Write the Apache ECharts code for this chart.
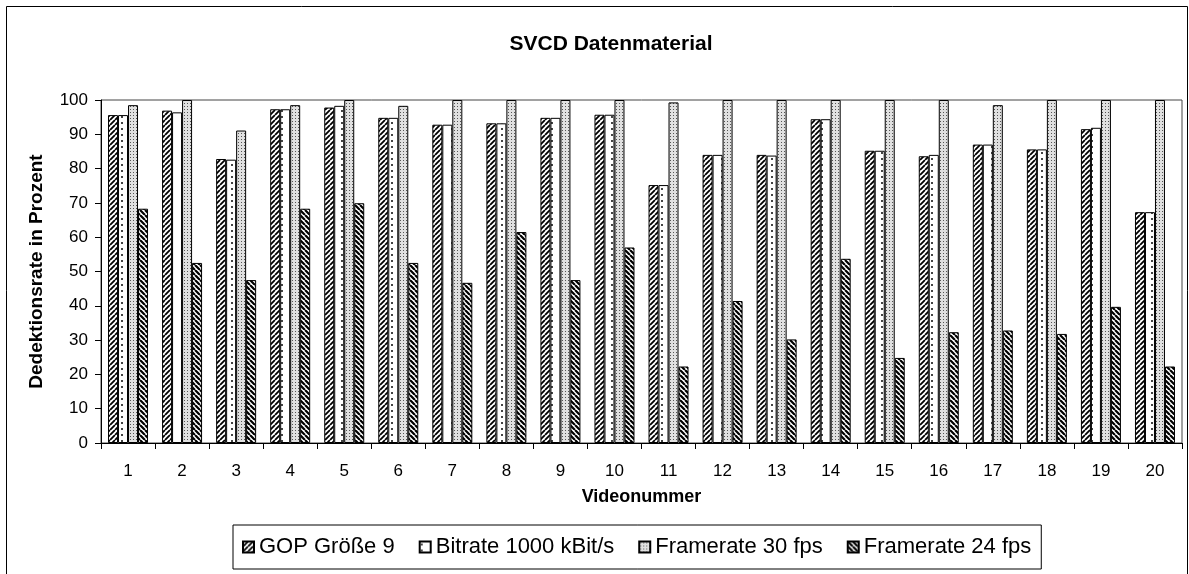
<!DOCTYPE html>
<html>
<head>
<meta charset="utf-8">
<script src="https://cdn.jsdelivr.net/npm/echarts@6/dist/echarts.min.js"></script>
<style>
  html, body { margin: 0; padding: 0; background: #fff; }
  #chart { width: 1189px; height: 574px; }
</style>
</head>
<body>
<div id="chart"></div>
<script>
// Daten
var videos = ['1','2','3','4','5','6','7','8','9','10','11','12','13','14','15','16','17','18','19','20'];
var seriesNames = ['GOP Größe 9', 'Bitrate 1000 kBit/s', 'Framerate 30 fps', 'Framerate 24 fps'];
var gop9 = [95.6, 96.9, 82.8, 97.3, 97.8, 94.8, 92.8, 93.2, 94.8, 95.7, 75.2, 84.0, 84.0, 94.4, 85.2, 83.6, 87.0, 85.6, 91.5, 67.3];
var bitrate1000 = [95.6, 96.4, 82.6, 97.3, 98.3, 94.8, 92.8, 93.2, 94.8, 95.7, 75.2, 84.0, 83.8, 94.4, 85.2, 84.0, 87.0, 85.6, 91.9, 67.3];
var fps30 = [98.5, 100, 91.1, 98.5, 100, 98.3, 100, 100, 100, 100, 99.3, 100, 100, 100, 100, 100, 98.5, 100, 100, 100];
var fps24 = [68.3, 52.5, 47.5, 68.3, 69.9, 52.5, 46.7, 61.5, 47.5, 57.0, 22.3, 41.4, 30.2, 53.7, 24.8, 32.3, 32.8, 31.8, 39.7, 22.3];
var yTicks = [0, 10, 20, 30, 40, 50, 60, 70, 80, 90, 100];

var FONT = 'Arial, "Liberation Sans", sans-serif';

// Schraffuren als Canvas-Muster
function hatch(dir, lw) {
    var c = document.createElement('canvas');
    c.width = 5; c.height = 5;
    var g = c.getContext('2d');
    g.fillStyle = '#fff'; g.fillRect(0, 0, 5, 5);
    g.strokeStyle = '#000'; g.lineWidth = lw;
    g.beginPath();
    for (var k = -1; k <= 1; k++) {
        if (dir > 0) { g.moveTo(k * 5, 5); g.lineTo(k * 5 + 5, 0); }
        else { g.moveTo(k * 5, 0); g.lineTo(k * 5 + 5, 5); }
    }
    g.stroke();
    return { image: c, repeat: 'repeat' };
}
function sparseDots() {
    var c = document.createElement('canvas');
    c.width = 10; c.height = 6;
    var g = c.getContext('2d');
    g.fillStyle = '#fff'; g.fillRect(0, 0, 10, 6);
    g.fillStyle = '#444'; g.fillRect(1, 2, 2, 2);
    return { image: c, repeat: 'repeat' };
}
function denseDots() {
    var c = document.createElement('canvas');
    c.width = 3; c.height = 3;
    var g = c.getContext('2d');
    g.fillStyle = '#e0e0e0'; g.fillRect(0, 0, 3, 3);
    g.fillStyle = '#555'; g.fillRect(1, 1, 1, 1);
    return { image: c, repeat: 'repeat' };
}

var fills = [hatch(1, 1.8), sparseDots(), denseDots(), hatch(-1, 2.2)];
var values = [gop9, bitrate1000, fps30, fps24];

var series = [];
for (var i = 0; i < seriesNames.length; i++) {
    series.push({
        name: seriesNames[i],
        type: 'bar',
        barWidth: 10,
        barGap: '0%',
        itemStyle: { color: fills[i], borderColor: '#000', borderWidth: 1 },
        data: values[i]
    });
}

var chart = echarts.init(document.getElementById('chart'));
chart.setOption({
    animation: false,
    backgroundColor: '#fff',
    title: {
        text: 'SVCD Datenmaterial',
        left: 606, top: 29, textAlign: 'center',
        textStyle: { fontFamily: FONT, fontSize: 21, fontWeight: 'bold', color: '#000' }
    },
    graphic: [{
        type: 'rect', silent: true,
        shape: { x: 6.5, y: 6.5, width: 1181, height: 600 },
        style: { fill: 'none', stroke: '#000', lineWidth: 1 }
    }],
    legend: {
        data: seriesNames,
        left: 233, top: 525,
        padding: [11, 10, 11, 9],
        itemGap: 24,
        icon: 'rect',
        itemWidth: 11, itemHeight: 11,
        borderColor: '#000', borderWidth: 1,
        textStyle: { fontFamily: FONT, fontSize: 22, color: '#000' }
    },
    grid: {
        left: 101, right: 7, top: 100, bottom: 131,
        show: true, borderColor: '#444', borderWidth: 1
    },
    xAxis: {
        type: 'category',
        data: videos,
        name: 'Videonummer',
        nameLocation: 'middle',
        nameGap: 45,
        nameTextStyle: { fontFamily: FONT, fontSize: 18, fontWeight: 'bold', color: '#000' },
        axisLine: { lineStyle: { color: '#000', width: 1 } },
        axisTick: { show: true, length: 6, lineStyle: { color: '#000' } },
        axisLabel: { fontFamily: FONT, fontSize: 17, color: '#000', margin: 20 },
        splitLine: { show: false }
    },
    yAxis: {
        type: 'value',
        min: yTicks[0], max: yTicks[yTicks.length - 1], interval: 10,
        name: 'Dedektionsrate in Prozent',
        nameLocation: 'middle',
        nameGap: 55,
        nameTextStyle: { fontFamily: FONT, fontSize: 19, fontWeight: 'bold', color: '#000' },
        axisLine: { show: true, lineStyle: { color: '#000', width: 1 } },
        axisTick: { show: true, length: 6, lineStyle: { color: '#000' } },
        axisLabel: { fontFamily: FONT, fontSize: 17, color: '#000', margin: 13 },
        splitLine: { show: false }
    },
    series: series
});
</script>
</body>
</html>
